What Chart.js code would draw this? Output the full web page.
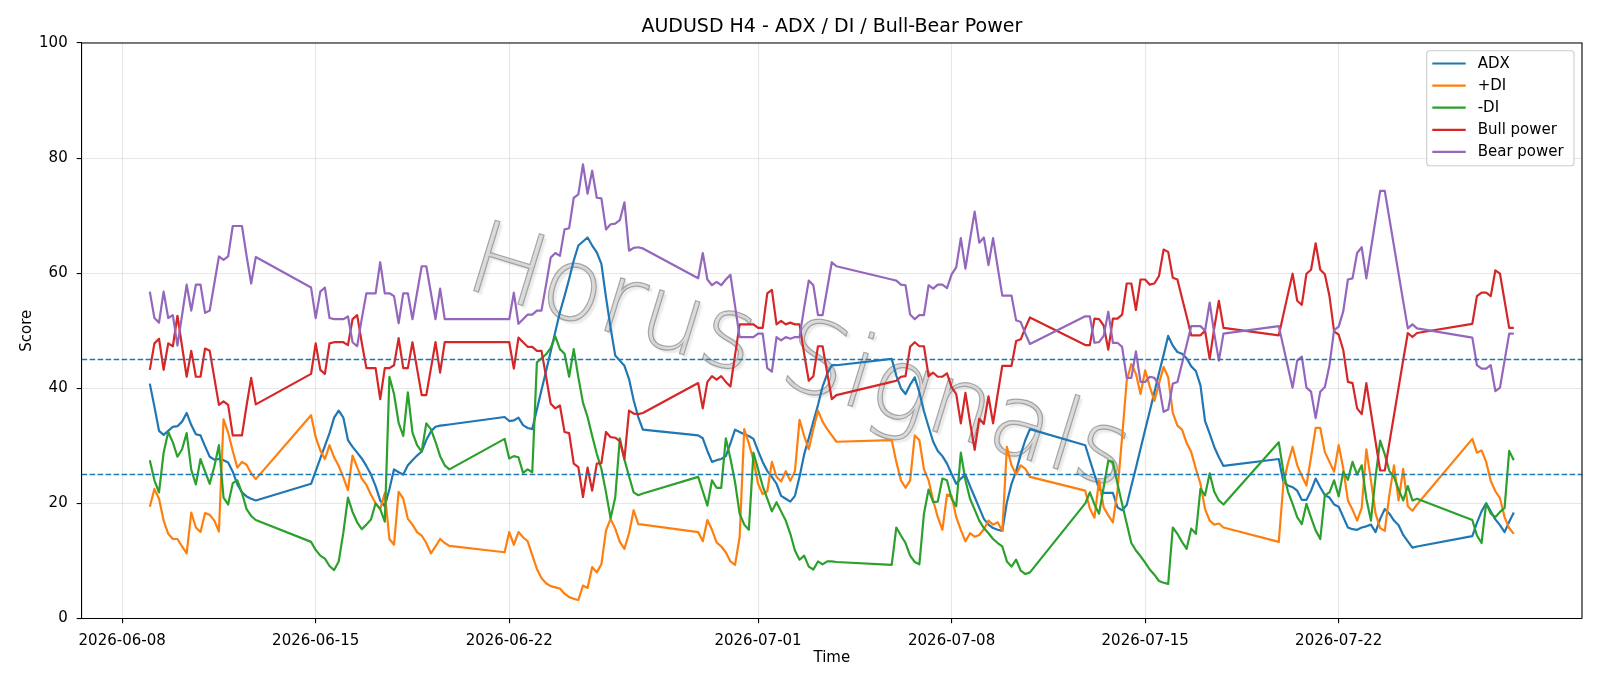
<!DOCTYPE html>
<html>
<head>
<meta charset="utf-8">
<script src="https://cdn.jsdelivr.net/npm/chart.js"></script>
<style>
html,body{margin:0;padding:0;background:#ffffff;}
#wrap{width:1600px;height:686px;position:relative;}
canvas{display:block;}
</style>
</head>
<body>
<div id="wrap"><canvas id="c" width="1600" height="686"></canvas></div>
<script>
// ---------- DATA ----------
const chartTitle = "AUDUSD H4 - ADX / DI / Bull-Bear Power";
const xAxisTitle = "Time";
const yAxisTitle = "Score";
const watermarkText = "Horus Signals";
const seriesNames = ["ADX", "+DI", "-DI", "Bull power", "Bear power"];
const seriesColors = ["#1f77b4", "#ff7f0e", "#2ca02c", "#d62728", "#9467bd"];
const thresholds = [25, 45];
const xTickDates = ["2026-06-08", "2026-06-15", "2026-06-22", "2026-07-01", "2026-07-08", "2026-07-15", "2026-07-22"];
const yTicks = [0, 20, 40, 60, 80, 100];

const times = [
"06-09 00","06-09 04","06-09 08","06-09 12","06-09 16","06-09 20",
"06-10 00","06-10 04","06-10 08","06-10 12","06-10 16","06-10 20",
"06-11 00","06-11 04","06-11 08","06-11 12","06-11 16","06-11 20",
"06-12 00","06-12 04","06-12 08","06-12 12","06-12 16","06-12 20",
"06-14 20",
"06-15 00","06-15 04","06-15 08","06-15 12","06-15 16","06-15 20",
"06-16 00","06-16 04","06-16 08","06-16 12","06-16 16","06-16 20",
"06-17 00","06-17 04","06-17 08","06-17 12","06-17 16","06-17 20",
"06-18 00","06-18 04","06-18 08","06-18 12","06-18 16","06-18 20",
"06-19 00","06-19 04","06-19 08","06-19 12","06-19 16","06-19 20",
"06-21 20",
"06-22 00","06-22 04","06-22 08","06-22 12","06-22 16","06-22 20",
"06-23 00","06-23 04","06-23 08","06-23 12","06-23 16","06-23 20",
"06-24 00","06-24 04","06-24 08","06-24 12","06-24 16","06-24 20",
"06-25 00","06-25 04","06-25 08","06-25 12","06-25 16","06-25 20",
"06-26 00","06-26 04","06-26 08","06-26 12","06-26 16","06-26 20",
"06-28 20",
"06-29 00","06-29 04","06-29 08","06-29 12","06-29 16","06-29 20",
"06-30 00","06-30 04","06-30 08","06-30 12","06-30 16","06-30 20",
"07-01 00","07-01 04","07-01 08","07-01 12","07-01 16","07-01 20",
"07-02 00","07-02 04","07-02 08","07-02 12","07-02 16","07-02 20",
"07-03 00","07-03 04","07-03 08","07-03 12","07-03 16","07-03 20",
"07-05 20",
"07-06 00","07-06 04","07-06 08","07-06 12","07-06 16","07-06 20",
"07-07 00","07-07 04","07-07 08","07-07 12","07-07 16","07-07 20",
"07-08 00","07-08 04","07-08 08","07-08 12","07-08 16","07-08 20",
"07-09 00","07-09 04","07-09 08","07-09 12","07-09 16","07-09 20",
"07-10 00","07-10 04","07-10 08","07-10 12","07-10 16","07-10 20",
"07-12 20",
"07-13 00","07-13 04","07-13 08","07-13 12","07-13 16","07-13 20",
"07-14 00","07-14 04","07-14 08","07-14 12","07-14 16","07-14 20",
"07-15 00","07-15 04","07-15 08","07-15 12","07-15 16","07-15 20",
"07-16 00","07-16 04","07-16 08","07-16 12","07-16 16","07-16 20",
"07-17 00","07-17 04","07-17 08","07-17 12","07-17 16","07-17 20",
"07-19 20",
"07-20 00","07-20 04","07-20 08","07-20 12","07-20 16","07-20 20",
"07-21 00","07-21 04","07-21 08","07-21 12","07-21 16","07-21 20",
"07-22 00","07-22 04","07-22 08","07-22 12","07-22 16","07-22 20",
"07-23 00","07-23 04","07-23 08","07-23 12","07-23 16","07-23 20",
"07-24 00","07-24 04","07-24 08","07-24 12","07-24 16","07-24 20",
"07-26 20",
"07-27 00","07-27 04","07-27 08","07-27 12","07-27 16","07-27 20",
"07-28 00","07-28 04","07-28 08"
];

const adx = [
40.8,36.8,32.6,31.9,32.6,33.3,33.4,34.2,35.7,33.6,32.0,31.8,29.9,28.1,27.6,27.7,27.5,27.1,25.5,23.3,21.9,21.2,20.8,20.5,
23.4,25.6,27.8,30.0,32.2,34.9,36.1,34.9,31.0,29.8,28.8,27.8,26.5,25.0,23.0,20.5,19.5,22.5,25.9,25.4,25.0,26.6,27.5,28.3,29.0,31.0,32.5,33.3,33.5,33.6,33.7,
35.0,34.3,34.4,34.9,33.6,33.1,32.9,36.3,39.7,43.0,46.4,49.8,53.2,56.0,59.0,62.2,64.8,65.5,66.2,64.8,63.6,61.6,55.8,50.5,45.7,44.8,43.9,41.6,37.9,35.0,32.8,
31.8,31.3,29.1,27.2,27.5,27.7,28.2,30.4,32.8,32.4,32.0,31.7,31.2,29.1,27.2,25.6,24.6,23.4,21.3,20.8,20.3,21.3,24.6,28.5,31.3,34.2,37.1,40.3,42.5,44.0,44.0,
45.1,42.2,40.0,39.0,40.6,41.9,39.3,36.0,33.3,30.7,29.1,28.2,26.9,25.1,23.4,24.3,25.0,23.0,21.1,19.2,17.3,16.3,15.7,15.4,15.2,20.2,23.4,25.6,28.5,31.0,32.9,
30.1,27.5,25.0,22.5,21.8,21.8,21.8,19.3,18.8,19.7,23.0,26.2,29.5,32.8,36.0,39.3,42.6,45.8,49.1,47.4,46.3,46.0,45.2,43.8,43.0,40.5,34.3,32.1,29.8,28.0,26.5,
27.7,23.7,23.1,22.8,22.2,20.6,20.6,22.2,24.3,22.8,21.4,21.0,19.8,19.4,17.6,15.8,15.5,15.4,15.8,16.0,16.3,15.0,17.3,19.0,18.2,17.0,16.2,14.5,13.4,12.3,12.5,
14.3,16.6,18.6,20.0,18.6,17.2,16.2,15.0,16.8,18.4
];

const plusDI = [
19.4,22.5,20.8,17.0,14.7,13.8,13.8,12.5,11.3,18.4,15.8,15.0,18.3,18.0,17.0,15.1,34.6,32.3,29.1,26.2,27.2,26.7,25.2,24.2,
35.3,31.5,29.2,27.7,30.1,28.0,26.5,24.5,22.3,28.3,26.3,24.3,23.2,21.5,20.0,19.0,21.8,13.8,12.8,22.0,20.8,17.3,16.3,15.0,14.4,13.1,11.3,12.5,13.8,13.1,12.6,
11.5,15.0,12.8,15.0,14.1,13.4,11.0,8.6,7.0,6.1,5.6,5.4,5.2,4.3,3.7,3.4,3.2,5.7,5.3,8.9,8.0,9.4,15.3,17.3,15.6,13.3,12.1,14.8,18.8,16.4,16.3,
15.0,13.4,17.1,15.4,13.2,12.5,11.5,9.9,9.3,14.1,32.9,30.4,27.5,23.4,21.6,22.1,27.2,24.6,23.8,25.6,23.9,25.6,34.5,31.7,29.4,32.9,36.1,34.2,32.9,31.8,30.7,
31.0,27.2,24.0,22.7,24.0,31.8,31.0,25.9,24.0,20.5,17.6,15.4,21.5,21.3,17.6,15.4,13.4,14.8,14.2,14.5,15.5,17.0,16.3,16.7,15.2,29.8,26.6,25.0,26.6,26.0,24.6,
22.2,19.1,17.5,24.0,19.3,17.9,16.7,22.2,31.5,41.3,44.2,42.5,39.0,43.1,40.3,37.8,40.8,43.7,41.9,35.7,33.5,32.8,30.5,28.9,26.0,23.4,19.0,17.0,16.3,16.5,15.8,
13.3,23.4,27.0,29.8,26.6,24.8,23.1,28.0,33.1,33.1,28.9,27.2,25.5,30.1,26.0,20.5,18.9,17.0,19.2,29.4,24.0,18.2,15.7,15.2,21.5,26.6,20.5,26.0,19.5,18.7,19.8,
31.2,28.8,29.2,27.2,23.9,22.1,20.9,17.6,15.7,14.7
];

const minusDI = [
27.5,24.0,21.9,28.8,32.4,30.6,28.1,29.4,32.2,25.8,23.3,27.7,25.5,23.4,26.4,30.1,21.0,19.8,23.5,24.0,21.8,19.0,17.8,17.1,
13.3,11.9,10.9,10.4,9.1,8.4,9.9,14.9,21.0,18.5,16.7,15.5,16.3,17.2,20.0,19.0,16.8,42.0,39.0,34.0,31.7,39.3,32.3,30.1,29.0,33.9,32.9,30.7,28.2,26.6,25.9,
31.2,27.8,28.2,28.0,25.3,25.9,25.4,44.5,45.2,45.9,47.0,49.0,46.8,46.0,42.0,46.8,41.9,37.5,35.0,31.7,28.6,26.0,21.9,17.4,21.0,31.3,27.6,24.7,21.9,21.4,21.7,
24.6,22.1,19.6,24.0,22.7,22.7,31.3,27.8,23.7,18.2,16.3,15.4,28.8,25.9,23.0,20.8,18.6,20.2,18.6,17.0,14.7,11.8,10.2,10.9,9.0,8.5,9.9,9.4,9.9,9.9,9.8,
9.3,15.8,14.4,13.1,10.9,9.8,9.4,18.2,22.4,20.2,20.3,24.3,24.0,20.8,19.5,28.8,24.0,20.8,18.9,17.0,15.7,14.8,13.8,13.1,12.5,9.9,9.0,10.2,8.3,7.7,8.0,
20.0,21.9,19.8,18.2,22.8,27.4,27.2,23.4,19.9,16.5,13.1,11.8,10.8,9.7,8.5,7.6,6.5,6.2,6.0,15.8,14.7,13.3,12.1,15.6,14.7,22.5,21.4,25.2,22.0,20.5,19.8,
30.6,25.5,22.0,19.9,17.6,16.4,19.9,17.5,15.3,13.8,21.4,21.9,24.0,21.2,25.5,24.1,27.2,25.0,26.6,20.8,17.0,24.6,30.9,28.5,25.6,24.6,22.4,20.5,23.0,20.5,20.8,
17.1,14.4,13.1,20.0,18.2,17.6,18.5,19.2,29.1,27.5
];

const bullPower = [
43.2,47.8,48.6,43.2,47.8,47.3,52.6,47.3,42.0,46.5,42.0,42.0,46.9,46.5,41.8,37.1,37.7,37.1,31.8,31.8,31.8,37.0,41.8,37.2,
42.5,47.8,43.2,42.5,47.8,48.0,48.0,48.0,47.5,52.0,52.7,47.9,43.5,43.5,43.5,38.1,43.5,43.5,44.0,48.7,43.5,43.5,48.0,43.4,38.8,38.8,43.4,48.0,42.7,48.0,48.0,
48.0,48.0,43.4,48.8,48.0,47.2,47.2,46.5,46.5,42.0,37.3,36.5,37.0,32.4,32.2,26.9,26.3,21.1,26.2,22.2,26.9,27.0,32.4,31.5,31.4,30.8,27.7,36.1,35.6,35.5,35.7,
40.9,36.5,41.1,42.1,41.5,42.1,41.1,40.3,45.7,51.1,51.1,51.1,51.1,50.5,50.5,56.5,57.1,51.1,51.7,51.1,51.4,51.1,51.1,46.0,41.3,42.1,47.3,47.3,42.7,38.1,38.8,
41.1,41.3,42.0,42.1,47.2,48.0,47.3,47.3,42.1,42.7,42.0,42.0,42.6,40.2,39.0,33.9,39.2,34.1,29.3,34.7,33.8,38.6,33.9,39.0,43.9,43.9,43.9,48.2,48.5,50.5,52.3,
47.5,47.5,52.1,52.0,50.9,46.7,52.1,52.1,52.8,58.2,58.2,53.6,58.9,58.9,58.0,58.2,59.5,64.1,63.7,59.2,58.9,55.7,52.5,49.2,49.2,49.2,50.0,45.1,50.5,55.2,50.5,
49.2,52.8,56.4,59.9,55.2,54.5,59.9,60.6,65.2,60.6,59.8,56.0,49.9,49.3,46.6,41.1,40.9,36.5,35.5,40.9,35.8,30.7,25.7,25.7,30.5,35.3,40.1,44.9,49.6,48.9,49.6,
51.2,56.0,56.6,56.6,56.0,60.5,59.9,55.2,50.5,50.5
];

const bearPower = [
56.8,52.2,51.4,56.8,52.2,52.7,47.4,52.7,58.0,53.5,58.0,58.0,53.1,53.5,58.2,62.9,62.3,62.9,68.2,68.2,68.2,63.0,58.2,62.8,
57.5,52.2,56.8,57.5,52.2,52.0,52.0,52.0,52.5,48.0,47.3,52.1,56.5,56.5,56.5,61.9,56.5,56.5,56.0,51.3,56.5,56.5,52.0,56.6,61.2,61.2,56.6,52.0,57.3,52.0,52.0,
52.0,52.0,56.6,51.2,52.0,52.8,52.8,53.5,53.5,58.0,62.7,63.5,63.0,67.6,67.8,73.1,73.7,78.9,73.8,77.8,73.1,73.0,67.6,68.5,68.6,69.2,72.3,63.9,64.4,64.5,64.3,
59.1,63.5,58.9,57.9,58.5,57.9,58.9,59.7,54.3,48.9,48.9,48.9,48.9,49.5,49.5,43.5,42.9,48.9,48.3,48.9,48.6,48.9,48.9,54.0,58.7,57.9,52.7,52.7,57.3,61.9,61.2,
58.9,58.7,58.0,57.9,52.8,52.0,52.7,52.7,57.9,57.3,58.0,58.0,57.4,59.8,61.0,66.1,60.8,65.9,70.7,65.3,66.2,61.4,66.1,61.0,56.1,56.1,56.1,51.8,51.5,49.5,47.7,
52.5,52.5,47.9,48.0,49.1,53.3,47.9,47.9,47.2,41.8,41.8,46.4,41.1,41.1,42.0,41.8,40.5,35.9,36.3,40.8,41.1,44.3,47.5,50.8,50.8,50.8,50.0,54.9,49.5,44.8,49.5,
50.8,47.2,43.6,40.1,44.8,45.5,40.1,39.4,34.8,39.4,40.2,44.0,50.1,50.7,53.4,58.9,59.1,63.5,64.5,59.1,64.2,69.3,74.3,74.3,69.5,64.7,59.9,55.1,50.4,51.1,50.4,
48.8,44.0,43.4,43.4,44.0,39.5,40.1,44.8,49.5,49.5
];

// ---------- HELPERS ----------
const YEAR = 2026;
function toMs(s) {
  const parts = s.split(" ");
  const md = parts[0].split("-").map(Number);
  return Date.UTC(YEAR, md[0] - 1, md[1], Number(parts[1] || 0));
}
function dateMs(s) {
  const p = s.split("-").map(Number);
  return Date.UTC(p[0], p[1] - 1, p[2]);
}
const xs = times.map(toMs);
const tickMs = xTickDates.map(dateMs);
const xFirst = xs[0], xLast = xs[xs.length - 1];
const xPad = (xLast - xFirst) * 0.05;

const LW = 2.2;
const seriesValues = [adx, plusDI, minusDI, bullPower, bearPower];
const datasets = seriesValues.map((vals, i) => ({
  label: seriesNames[i],
  data: vals.map((v, j) => ({ x: xs[j], y: v })),
  borderColor: seriesColors[i],
  backgroundColor: seriesColors[i],
  borderWidth: LW,
  pointRadius: 0,
  pointHoverRadius: 0,
  tension: 0,
  fill: false,
  borderJoinStyle: "round",
  borderCapStyle: "butt",
  order: seriesValues.length - i
}));

const FONT = "'DejaVu Sans', 'Liberation Sans', sans-serif";
const FS = 15;

const extras = {
  id: "extras",
  beforeDatasetsDraw(chart) {
    const { ctx, chartArea: a } = chart;
    ctx.save();
    ctx.beginPath();
    ctx.rect(a.left, a.top, a.right - a.left, a.bottom - a.top);
    ctx.clip();
    ctx.translate(462, 287);
    ctx.rotate(17 * Math.PI / 180);
    ctx.font = "200 101px " + FONT;
    ctx.textAlign = "left";
    ctx.textBaseline = "alphabetic";
    ctx.shadowColor = "rgba(0,0,0,0.14)";
    ctx.shadowOffsetX = 3;
    ctx.shadowOffsetY = 3;
    ctx.shadowBlur = 2;
    ctx.fillStyle = "rgba(195,195,195,0.6)";
    ctx.fillText(watermarkText, 0, 0);
    ctx.shadowColor = "rgba(0,0,0,0)";
    ctx.strokeStyle = "rgba(120,120,120,0.6)";
    ctx.lineWidth = 1.2;
    ctx.strokeText(watermarkText, 0, 0);
    ctx.restore();
  },
  afterDatasetsDraw(chart) {
    const { ctx, chartArea: a, scales } = chart;
    ctx.save();
    ctx.beginPath();
    ctx.rect(a.left, a.top, a.right - a.left, a.bottom - a.top);
    ctx.clip();
    ctx.strokeStyle = "#1f77b4";
    ctx.lineWidth = 1.5;
    ctx.setLineDash([5.6, 2.4]);
    thresholds.forEach(v => {
      const py = scales.y.getPixelForValue(v);
      ctx.beginPath();
      ctx.moveTo(a.left, py);
      ctx.lineTo(a.right, py);
      ctx.stroke();
    });
    ctx.restore();
  },
  afterDraw(chart) {
    const { ctx, chartArea: a } = chart;
    ctx.save();
    // top & right spines
    ctx.strokeStyle = "#000";
    ctx.lineWidth = 1.1;
    ctx.beginPath();
    ctx.moveTo(a.left, a.top);
    ctx.lineTo(a.right, a.top);
    ctx.lineTo(a.right, a.bottom);
    ctx.stroke();
    // title
    ctx.fillStyle = "#000";
    ctx.font = "19px " + FONT;
    ctx.textAlign = "center";
    ctx.textBaseline = "alphabetic";
    ctx.fillText(chartTitle, (a.left + a.right) / 2, 32.4);
    // legend
    const lx0 = 1426.7, ly0 = 50.7, lw = 147.3, lh = 115;
    ctx.beginPath();
    const r = 3;
    ctx.moveTo(lx0 + r, ly0);
    ctx.arcTo(lx0 + lw, ly0, lx0 + lw, ly0 + lh, r);
    ctx.arcTo(lx0 + lw, ly0 + lh, lx0, ly0 + lh, r);
    ctx.arcTo(lx0, ly0 + lh, lx0, ly0, r);
    ctx.arcTo(lx0, ly0, lx0 + lw, ly0, r);
    ctx.closePath();
    ctx.fillStyle = "rgba(255,255,255,0.8)";
    ctx.fill();
    ctx.strokeStyle = "#cccccc";
    ctx.lineWidth = 1.1;
    ctx.stroke();
    ctx.font = FS + "px " + FONT;
    ctx.textAlign = "left";
    ctx.textBaseline = "middle";
    seriesNames.forEach((name, i) => {
      const yy = 63.5 + i * 22.1;
      ctx.strokeStyle = seriesColors[i];
      ctx.lineWidth = LW;
      ctx.beginPath();
      ctx.moveTo(1432.3, yy);
      ctx.lineTo(1465.7, yy);
      ctx.stroke();
      ctx.fillStyle = "#000";
      ctx.fillText(name, 1477.7, yy + 0.5);
    });
    ctx.restore();
  }
};

Chart.defaults.font.family = FONT;
Chart.defaults.font.size = FS;
Chart.defaults.color = "#000";

new Chart(document.getElementById("c"), {
  type: "line",
  data: { datasets },
  options: {
    responsive: false,
    animation: false,
    devicePixelRatio: 1,
    events: [],
    layout: { padding: { left: 0, right: 18, top: 43, bottom: 0 } },
    plugins: { legend: { display: false }, title: { display: false }, tooltip: { enabled: false } },
    scales: {
      x: {
        type: "linear",
        min: xFirst - xPad,
        max: xLast + xPad,
        afterFit: s => { s.height = 67.6; },
        afterBuildTicks: s => { s.ticks = tickMs.map(v => ({ value: v })); },
        ticks: {
          autoSkip: false,
          maxRotation: 0,
          padding: 8.5,
          color: "#000",
          font: { size: FS },
          callback: v => { const k = tickMs.indexOf(v); return k >= 0 ? xTickDates[k] : ""; }
        },
        grid: { color: "rgba(176,176,176,0.3)", lineWidth: 1.1, tickLength: 4.9, tickColor: "#000", tickWidth: 1.1, drawTicks: true },
        border: { display: true, color: "#000", width: 1.1 },
        title: { display: true, text: xAxisTitle, color: "#000", font: { size: FS }, padding: { top: 0, bottom: 18.4 } }
      },
      y: {
        type: "linear",
        min: 0,
        max: 100,
        afterFit: s => { s.width = 81.6; },
        afterBuildTicks: s => { s.ticks = yTicks.map(v => ({ value: v })); },
        ticks: { padding: 9, color: "#000", font: { size: FS } },
        grid: { color: "rgba(176,176,176,0.3)", lineWidth: 1.1, tickLength: 4.9, tickColor: "#000", tickWidth: 1.1, drawTicks: true },
        border: { display: true, color: "#000", width: 1.1 },
        title: { display: true, text: yAxisTitle, color: "#000", font: { size: FS }, padding: { top: 18.6, bottom: 0 } }
      }
    }
  },
  plugins: [extras]
});
</script>
</body>
</html>
